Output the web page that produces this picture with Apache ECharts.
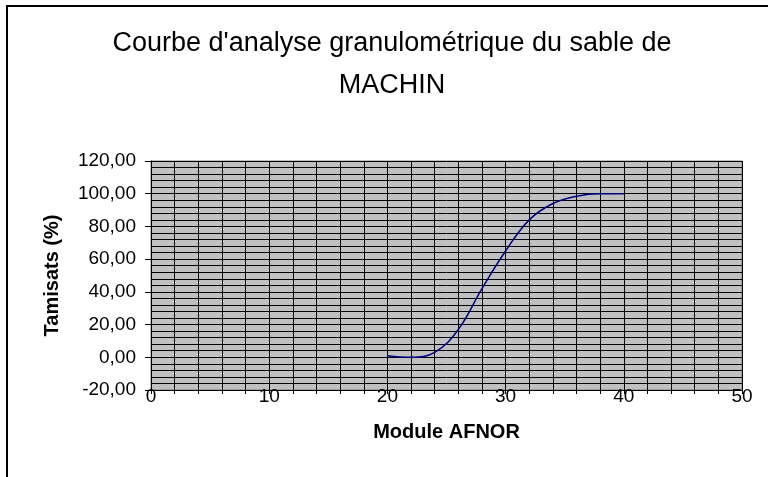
<!DOCTYPE html>
<html>
<head>
<meta charset="utf-8">
<title>Courbe granulométrique</title>
<script src="https://cdn.jsdelivr.net/npm/echarts@6/dist/echarts.min.js"></script>
<style>
  html, body { margin: 0; padding: 0; background: #fff; }
  #chart { width: 768px; height: 477px; }
</style>
</head>
<body>
<div id="chart"></div>
<script>
  // modules AFNOR et tamisats cumulés (%)
  const modules = [20, 22, 24, 26, 28, 30, 32, 34, 36, 38, 40]
  const tamisats = [1, 0, 3, 17, 42, 65, 84, 94, 98.5, 100, 100]
  const xTicks = [0, 10, 20, 30, 40, 50]
  const yTicks = [-20, 0, 20, 40, 60, 80, 100, 120]
  const titre = "Courbe d'analyse granulométrique du sable de\nMACHIN"

  const font = 'Arial, "Liberation Sans", sans-serif'
  const myChart = echarts.init(document.getElementById('chart'))

  myChart.setOption({
    animation: false,
    backgroundColor: '#fff',
    graphic: [{
      // cadre du graphique
      type: 'rect',
      shape: { x: 7, y: 6, width: 900, height: 600 },
      style: { fill: 'none', stroke: '#000', lineWidth: 2 },
      silent: true
    }, {
      // titre centré sur la zone du graphique
      type: 'text',
      x: 392,
      y: 23,
      style: {
        text: titre,
        fontFamily: font,
        fontSize: 27,
        fill: '#000',
        lineHeight: 42,
        align: 'center',
        verticalAlign: 'top'
      },
      silent: true
    }],
    grid: {
      left: 151,
      top: 161,
      width: 591,
      height: 229,
      show: true,
      backgroundColor: '#c0c0c0',
      borderColor: '#808080',
      borderWidth: 1
    },
    xAxis: {
      type: 'value',
      min: xTicks[0],
      max: xTicks[xTicks.length - 1],
      interval: 10,
      name: 'Module AFNOR',
      nameLocation: 'middle',
      nameGap: 32,
      nameTextStyle: { fontFamily: font, fontSize: 20, fontWeight: 'bold', color: '#000' },
      axisLine: { show: true, onZero: false, lineStyle: { color: '#000', width: 1 } },
      axisTick: { show: true, length: 4, lineStyle: { color: '#000' } },
      minorTick: { show: true, splitNumber: 5, length: 4, lineStyle: { color: '#000' } },
      axisLabel: { fontFamily: font, fontSize: 19, color: '#000', margin: -3 },
      splitLine: { show: true, lineStyle: { color: '#000', width: 1 } },
      minorSplitLine: { show: true, lineStyle: { color: '#000', width: 1 } }
    },
    yAxis: {
      type: 'value',
      min: yTicks[0],
      max: yTicks[yTicks.length - 1],
      interval: 20,
      name: 'Tamisats (%)',
      nameLocation: 'middle',
      nameGap: 89,
      nameTextStyle: { fontFamily: font, fontSize: 20, fontWeight: 'bold', color: '#000' },
      axisLine: { show: true, lineStyle: { color: '#000', width: 1 } },
      axisTick: { show: true, length: 6, lineStyle: { color: '#000' } },
      axisLabel: {
        fontFamily: font,
        fontSize: 19,
        color: '#000',
        margin: 15,
        formatter: v => v.toFixed(2).replace('.', ',')
      },
      splitLine: { show: true, lineStyle: { color: '#000', width: 1 } },
      minorTick: { show: false, splitNumber: 5 },
      minorSplitLine: { show: true, lineStyle: { color: '#000', width: 1 } }
    },
    series: [{
      type: 'line',
      data: modules.map((m, i) => [m, tamisats[i]]),
      smooth: 0.4,
      showSymbol: false,
      lineStyle: { color: '#000080', width: 1.5 }
    }]
  })
</script>
</body>
</html>
